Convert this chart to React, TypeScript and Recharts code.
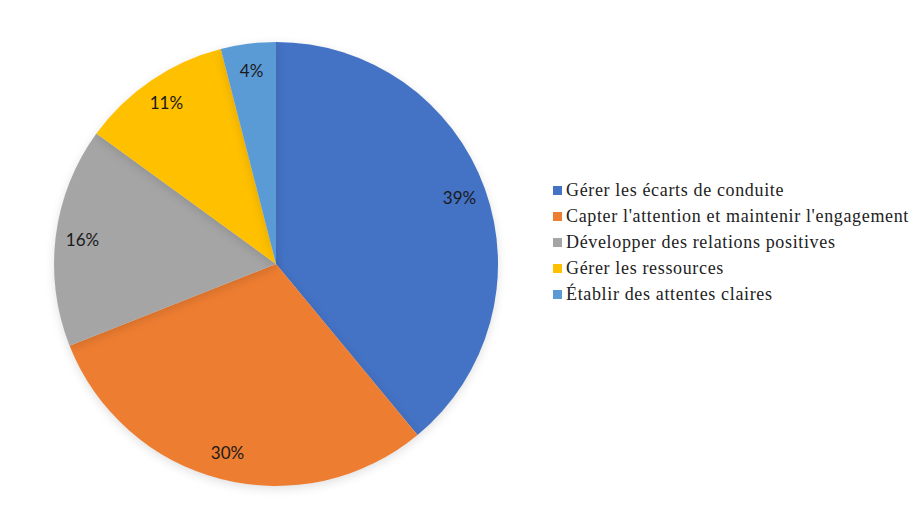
import { PieChart, Pie, Cell, Legend } from "recharts";

const categories = [
  "Gérer les écarts de conduite",
  "Capter l'attention et maintenir l'engagement",
  "Développer des relations positives",
  "Gérer les ressources",
  "Établir des attentes claires",
];
const shares = [39, 30, 16, 11, 4];
const colors = ["#4472C4", "#ED7D31", "#A5A5A5", "#FFC000", "#5B9BD5"];

const data = categories.map((name, i) => ({ name, value: shares[i] }));

const RAD = Math.PI / 180;

function renderLabel(props: any) {
  const { cx, cy, midAngle, value } = props;
  const r = 195;
  const x = cx + r * Math.cos(-midAngle * RAD);
  const y = cy + r * Math.sin(-midAngle * RAD);
  return (
    <text
      x={x}
      y={y}
      textAnchor="middle"
      dominantBaseline="central"
      fill="#1a1a1a"
      fontSize={17}
      fontFamily="Lato, sans-serif"
    >
      {value}%
    </text>
  );
}

function LegendList() {
  return (
    <div
      style={{
        fontFamily: "Liberation Serif, DejaVu Serif, serif",
        fontSize: 18,
        letterSpacing: 0.65,
        color: "#222",
        lineHeight: "26px",
      }}
    >
      {categories.map((c, i) => (
        <div key={c} style={{ display: "flex", alignItems: "center", height: 26 }}>
          <span
            style={{
              display: "inline-block",
              width: 9,
              height: 9,
              background: colors[i],
              marginRight: 4,
            }}
          />
          <span>{c}</span>
        </div>
      ))}
    </div>
  );
}

export default function App() {
  return (
    <div style={{ position: "absolute", left: 0, top: 0, width: 912, height: 519, background: "#fff" }}>
      <style>{`.recharts-pie-sector { filter: drop-shadow(0 3px 5px rgba(0,0,0,0.12)); }`}</style>
      <PieChart width={912} height={519} margin={{ top: 0, right: 0, bottom: 0, left: 0 }}>
        <Pie
          data={data}
          dataKey="value"
          cx={276}
          cy={264}
          outerRadius={222}
          startAngle={90}
          endAngle={-270}
          stroke="none"
          label={renderLabel}
          labelLine={false}
          isAnimationActive={false}
        >
          {data.map((d, i) => (
            <Cell key={d.name} fill={colors[i]} />
          ))}
        </Pie>
        <Legend
          content={() => <LegendList />}
          layout="vertical"
          wrapperStyle={{ left: 553, top: 177, width: 360 }}
        />
      </PieChart>
    </div>
  );
}
